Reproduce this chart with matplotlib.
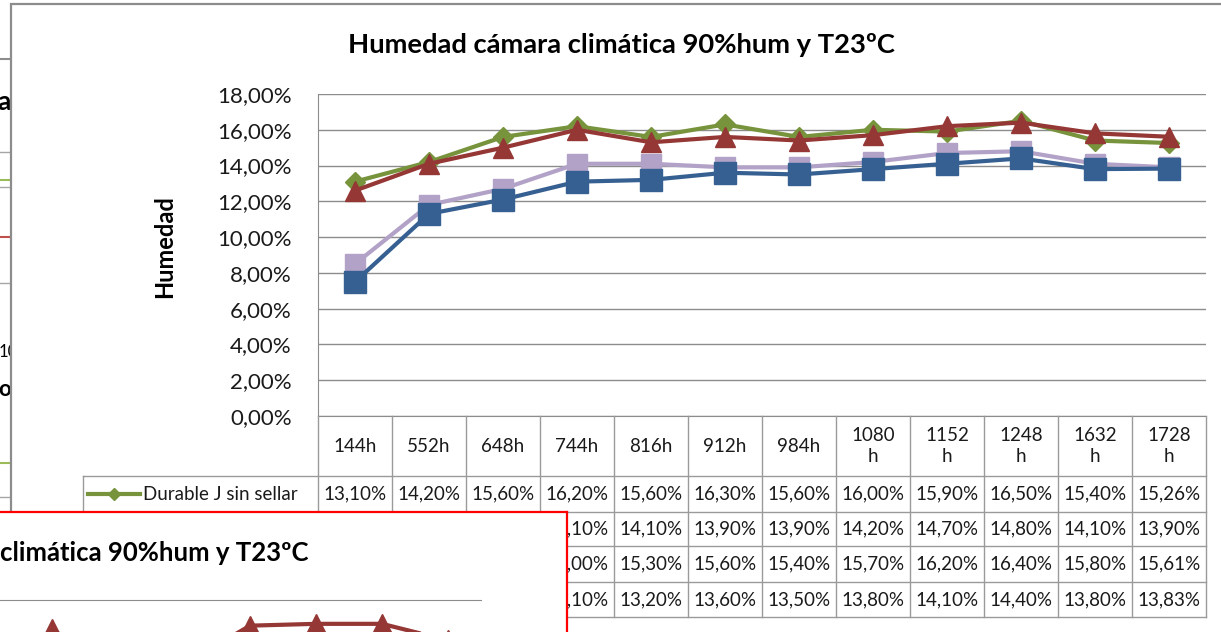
import numpy as np
import matplotlib
matplotlib.use('Agg')
import matplotlib.pyplot as plt
from matplotlib.patches import Rectangle
from matplotlib.ticker import FuncFormatter

plt.rcParams['font.family'] = ['Lato', 'DejaVu Sans']

# datos del grafico (humedad en %)
tiempos = ["144h", "552h", "648h", "744h", "816h", "912h", "984h",
           "1080h", "1152h", "1248h", "1632h", "1728h"]
series = ["Durable J sin sellar", "", "", ""]   # las otras tres quedan tapadas
verde = [13.10, 14.20, 15.60, 16.20, 15.60, 16.30, 15.60, 16.00, 15.90, 16.50, 15.40, 15.26]
lila = [8.50, 11.80, 12.70, 14.10, 14.10, 13.90, 13.90, 14.20, 14.70, 14.80, 14.10, 13.90]
rojo = [12.60, 14.10, 15.00, 16.00, 15.30, 15.60, 15.40, 15.70, 16.20, 16.40, 15.80, 15.61]
azul = [7.50, 11.30, 12.10, 13.10, 13.20, 13.60, 13.50, 13.80, 14.10, 14.40, 13.80, 13.83]
# grafico de la ventana roja (solo se ve la parte de arriba)
rojo_otra = [np.nan, 16.4, 14.0, 14.5, 16.6, 16.7, 16.7, 15.8]

colores = ['#77933C', '#B3A2C7', '#953735', '#376092']
marcas = ['D', 's', '^', 's']
tam = [10, 14, 15, 15.5]
valores = [verde, lila, rojo, azul]

W, H = 1221, 632
def caja(x0, y0, x1, y1):
    return [x0 / W, 1 - y1 / H, (x1 - x0) / W, (y1 - y0) / H]

def pct(v):
    return f"{v:.2f}%".replace('.', ',')

fig = plt.figure(figsize=(W / 100, H / 100), dpi=100)

# fondo: otra ventana detras y marco de la ventana principal
fondo = fig.add_axes([0, 0, 1, 1], zorder=0)
fondo.set_xlim(0, W)
fondo.set_ylim(H, 0)
fondo.axis('off')
for y, c in [(59, '#8c8c8c'), (152, '#a6a6a6'), (180, '#9BBB59'), (187, '#a6a6a6'),
             (237, '#C0504D'), (283, '#a6a6a6'), (463, '#9BBB59'), (497, '#a6a6a6')]:
    fondo.plot([0, 12], [y, y], color=c, lw=1.5 if c != '#a6a6a6' else 1)
fondo.text(11, 102, "a", ha='right', va='center', fontsize=19, fontweight='bold')
fondo.text(-1, 352, "10", ha='left', va='center', fontsize=12)
fondo.text(-2, 390, "oc", ha='left', va='center', fontsize=16, fontweight='bold')
fondo.add_patch(Rectangle((11, 4), 1300, 700, facecolor='white',
                          edgecolor='#8c8c8c', lw=1.6, zorder=5))

# grafico principal
ax = fig.add_axes(caja(318, 94, 1206, 416), zorder=1)
x = np.arange(len(tiempos)) + 0.5
for vals, col, m, s in zip(valores, colores, marcas, tam):
    ax.plot(x, np.array(vals) / 100, color=col, lw=3, marker=m, ms=s,
            markerfacecolor=col, markeredgecolor=col, solid_joinstyle='round')
ax.set_xlim(0, len(tiempos))
ax.set_ylim(0, 0.18)
ax.set_yticks(np.arange(0, 0.181, 0.02))
ax.yaxis.set_major_formatter(FuncFormatter(lambda v, p: pct(v * 100)))
ax.set_xticks([])
ax.grid(axis='y', color='#8c8c8c', lw=1)
ax.set_axisbelow(True)
for lado in ['top', 'right']:
    ax.spines[lado].set_visible(False)
for lado in ['left', 'bottom']:
    ax.spines[lado].set_color('#8c8c8c')
ax.tick_params(axis='y', length=0, pad=19, labelsize=16, labelcolor='#1a1a1a')

# textos y tabla de datos
ov = fig.add_axes([0, 0, 1, 1], zorder=2)
ov.set_xlim(0, W)
ov.set_ylim(H, 0)
ov.axis('off')
ov.patch.set_alpha(0)
ov.text(621, 45, "Humedad cámara climática 90%hum y T23ºC", ha='center', va='center',
        fontsize=19.7, fontweight='bold')
ov.text(165, 247, "Humedad", rotation=90, ha='center', va='center',
        fontsize=17, fontweight='bold')

gris = '#9a9a9a'
col_x = 318 + 74 * np.arange(len(tiempos) + 1)
filas_y = [476, 512, 546, 582, 617]
for cx in col_x:
    ov.plot([cx, cx], [416, 617], color=gris, lw=1)
for fy in filas_y:
    ov.plot([83, 1206], [fy, fy], color=gris, lw=1)
ov.plot([83, 83], [476, 617], color=gris, lw=1)
for i, t in enumerate(tiempos):
    etiqueta = t if len(t) <= 4 else t[:-1] + "\nh"
    ov.text(col_x[i] + 37, 446, etiqueta, ha='center', va='center', fontsize=13.5,
            linespacing=1.25, color='#1a1a1a')
for r, (nombre, vals, col, m) in enumerate(zip(series, valores, colores, marcas)):
    yc = (filas_y[r] + filas_y[r + 1]) / 2
    ov.plot([88, 140], [yc, yc], color=col, lw=3)
    ov.plot([114], [yc], marker=m, ms=6, color=col)
    ov.text(143, yc, nombre, ha='left', va='center', fontsize=13.5, color='#1a1a1a')
    for i, v in enumerate(vals):
        ov.text(col_x[i] + 37, yc, pct(v), ha='center', va='center', fontsize=13.5,
                color='#1a1a1a')

# ventana roja por delante
vr = fig.add_axes(caja(-10, 512, 567, 720), zorder=5)
vr.set_xlim(-10, 567)
vr.set_ylim(720, 512)
vr.set_xticks([])
vr.set_yticks([])
vr.set_facecolor('white')
for lado in ['left', 'bottom']:
    vr.spines[lado].set_visible(False)
for lado in ['top', 'right']:
    vr.spines[lado].set_color('#ff0000')
    vr.spines[lado].set_linewidth(1.6)
vr.text(0.5, 553, "climática 90%hum y T23ºC", ha='left', va='center',
        fontsize=18.5, fontweight='bold')

ax2 = fig.add_axes(caja(-47, 600, 481, 930), zorder=6)
ax2.patch.set_alpha(0)
x2 = np.arange(len(rojo_otra)) + 0.5
ax2.plot(x2, np.array(rojo_otra) / 100, color='#953735', lw=3, marker='^', ms=15)
ax2.set_xlim(0, len(rojo_otra))
ax2.set_ylim(0, 0.18)
ax2.set_xticks([])
ax2.set_yticks([])
for lado in ['left', 'bottom', 'right']:
    ax2.spines[lado].set_visible(False)
ax2.spines['top'].set_color('#8c8c8c')

fig.savefig('out.png', dpi=100)
